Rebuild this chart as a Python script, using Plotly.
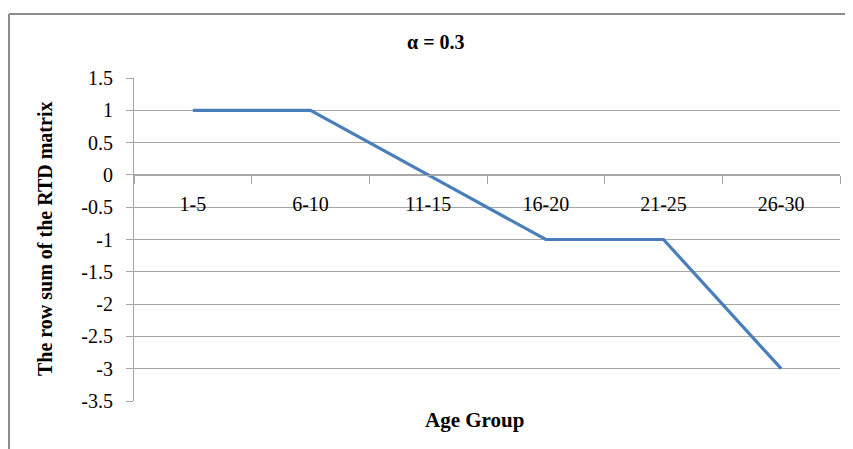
import plotly.graph_objects as go

categories = ["1-5", "6-10", "11-15", "16-20", "21-25", "26-30"]
row_sum = [1, 1, 0, -1, -1, -3]
y_tickvals = [1.5, 1, 0.5, 0, -0.5, -1, -1.5, -2, -2.5, -3, -3.5]
y_ticktext = ["1.5", "1", "0.5", "0", "-0.5", "-1", "-1.5", "-2", "-2.5", "-3", "-3.5"]

# page body has an 8px margin, so the figure is placed at (8, 8) in the window
OFF = 8
W, H = 853 - OFF, 449 - OFF
L, R, T, B = 134 - OFF, 13, 78 - OFF, 48
FONT = "Liberation Serif"
GRID = "#A6A6A6"


def px_x(x):  # window px -> paper fraction
    return (x - OFF - L) / (W - L - R)


def px_y(y):
    return 1 - (y - OFF - T) / (H - T - B)


fig = go.Figure()
fig.add_trace(go.Scatter(x=categories, y=row_sum, mode="lines",
                         line=dict(color="#4A7EBB", width=3.2), showlegend=False))

ymin, ymax = -3.5, 1.5
fig.update_layout(
    width=W, height=H,
    margin=dict(l=L, r=R, t=T, b=B, autoexpand=False),
    paper_bgcolor="white", plot_bgcolor="white",
    font=dict(family=FONT, color="black"),
    xaxis=dict(type="category", anchor="free", position=(0 - ymin) / (ymax - ymin),
               automargin=False,
               showline=True, linecolor=GRID, linewidth=1,
               ticks="outside", ticklen=8, tickcolor=GRID, tickson="boundaries",
               showgrid=False, tickfont=dict(size=20, family=FONT),
               ticklabelstandoff=11, range=[-0.5, 5.5]),
    yaxis=dict(range=[ymin, ymax], tickvals=y_tickvals, ticktext=y_ticktext,
               automargin=False,
               showline=True, linecolor=GRID, linewidth=1,
               ticks="outside", ticklen=7, tickcolor=GRID,
               ticklabelstandoff=9,
               showgrid=True, gridcolor=GRID, gridwidth=1, zeroline=False,
               tickfont=dict(size=20, family=FONT)),
)

fig.add_annotation(text="<b>α = 0.3</b>", xref="paper", yref="paper",
                   x=px_x(436), y=px_y(42),
                   showarrow=False, font=dict(size=20, family=FONT),
                   xanchor="center", yanchor="middle")
fig.add_annotation(text="<b>The row sum of the RTD matrix</b>", xref="paper", yref="paper",
                   x=px_x(45), y=px_y(239), textangle=-90,
                   showarrow=False, font=dict(size=20, family=FONT),
                   xanchor="center", yanchor="middle")
fig.add_annotation(text="<b>Age Group</b>", xref="paper", yref="paper",
                   x=px_x(474), y=px_y(420),
                   showarrow=False, font=dict(size=21, family=FONT),
                   xanchor="center", yanchor="middle")

# outer chart frame (top and left edges visible)
fig.add_shape(type="line", xref="paper", yref="paper",
              x0=px_x(9), x1=px_x(870), y0=px_y(14), y1=px_y(14),
              line=dict(color="#8C8C8C", width=2))
fig.add_shape(type="line", xref="paper", yref="paper",
              x0=px_x(9), x1=px_x(9), y0=px_y(14), y1=px_y(470),
              line=dict(color="#8C8C8C", width=2))

fig.write_html("out.html")
